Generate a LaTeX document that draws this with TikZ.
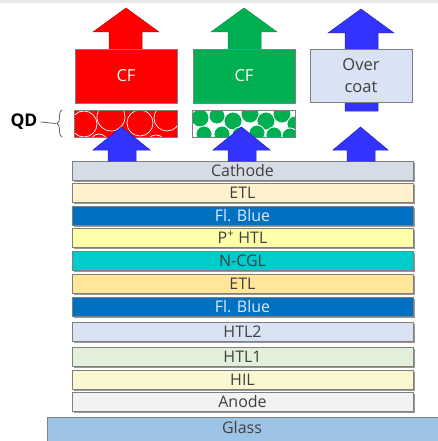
\documentclass[tikz,border=0pt]{standalone}
\usepackage{fontspec}
\setmainfont{Open Sans}
\usetikzlibrary{shadows,decorations.pathreplacing}
\definecolor{topgray}{HTML}{E8E8E8}
\definecolor{lborder}{HTML}{7F7F7F}
\definecolor{ltext}{HTML}{404040}
\definecolor{cathodec}{HTML}{D6DCE5}
\definecolor{etla}{HTML}{FFF2CC}
\definecolor{flblue}{HTML}{0070C0}
\definecolor{flbluetext}{HTML}{DDEBF7}
\definecolor{phtl}{HTML}{FFFFAA}
\definecolor{ncgl}{HTML}{00CCCC}
\definecolor{etlb}{HTML}{FFE699}
\definecolor{htltwo}{HTML}{DAE3F3}
\definecolor{htlone}{HTML}{E2F0D9}
\definecolor{hilc}{HTML}{FAF8D0}
\definecolor{anodec}{HTML}{F2F2F2}
\definecolor{glassc}{HTML}{9DC3E6}
\definecolor{cfred}{HTML}{FF0000}
\definecolor{cfgreen}{HTML}{00B050}
\definecolor{ocfill}{HTML}{DAE3F3}
\definecolor{arrblue}{HTML}{3333FF}
\begin{document}
\begin{tikzpicture}[x=1pt,y=-1pt,
  layer/.style={draw=lborder, line width=0.9pt, minimum width=341pt, minimum height=19pt,
    inner sep=0pt, outer sep=0pt, anchor=north west, text=ltext,
    font=\fontsize{16}{16}\selectfont,
    drop shadow={shadow xshift=1.5pt, shadow yshift=-1.5pt, opacity=0.4, fill=black}},
  cfbox/.style={draw=lborder, line width=0.8pt, minimum width=102pt, minimum height=54pt,
    inner sep=0pt, outer sep=0pt, anchor=north west, font=\fontsize{16.5}{16.5}\selectfont},
  qdbox/.style={draw=lborder, line width=0.8pt, minimum width=103pt, minimum height=27pt,
    inner sep=0pt, outer sep=0pt, anchor=north west},
  upar/.style={line width=0.5pt, line join=miter}
]
\useasboundingbox (0,0) rectangle (438,441);
\fill[topgray] (0,0) rectangle (438,3);

% ---- top arrows (behind boxes)
\filldraw[upar, fill=cfred, draw=cfred!80!black] (126,8) -- (159,32) -- (142,32) -- (142,52) -- (109,52) -- (109,32) -- (93,32) -- cycle;
\filldraw[upar, fill=cfgreen, draw=cfgreen!80!black] (244,8) -- (277,32) -- (261,32) -- (261,52) -- (228,52) -- (228,32) -- (211,32) -- cycle;
\filldraw[upar, fill=arrblue, draw=arrblue!70!black] (361,9) -- (394,33) -- (378,33) -- (378,111) -- (345,111) -- (345,33) -- (328,33) -- cycle;

% ---- colour filter boxes
\node[cfbox, fill=cfred, text=white] (cfr) at (75,49) {CF};
\node[cfbox, fill=cfgreen, text=white] (cfg) at (193,49) {CF};
\node[cfbox, fill=ocfill, text=ltext, align=center, minimum height=53pt] (oc) at (310,49) {Over\\[5pt]coat};

% ---- QD layers
\node[qdbox, fill=cfred] (qdr) at (74,110) {};
\begin{scope}
  \clip (74,110) rectangle (177,137);
  \foreach \cx/\cy/\r in {84/124/13, 111/117/14, 140/123/13, 167/118/13, 99/143/9, 126/144/9, 156/145/10, 80/102/9, 140/99/9}
    \draw[white, line width=0.7pt] (\cx,\cy) circle (\r);
\end{scope}
\draw[lborder, line width=0.8pt] (74,110) rectangle (177,137);

\node[qdbox, fill=white] (qdg) at (192,110) {};
\begin{scope}
  \clip (192,110) rectangle (295,137);
  \foreach \cx/\cy/\r in {200/118/9, 217/116/8, 233/121/9, 250/114/9, 266/121/9, 282/114/9, 295/124/8,
     204/134/8, 222/134/8, 240/135/8, 257/133/8, 274/135/8, 290/136/8}
    \filldraw[fill=cfgreen, draw=white, line width=0.8pt] (\cx,\cy) circle (\r);
\end{scope}
\draw[lborder, line width=0.8pt] (192,110) rectangle (295,137);

% ---- QD label and brace
\node[font=\bfseries\fontsize{17.5}{17.5}\selectfont, text=black, anchor=center, inner sep=0pt] (qd) at (24,122) {QD};
\coordinate (bracetip) at (56,123.5);
\draw[black!60, line width=0.8pt] (qd.east) ++(3pt,0) -- (bracetip);
\draw[black!60, line width=0.8pt, decorate, decoration={brace, amplitude=5pt}] (62,137) -- (62,110);

% ---- layer stack
\node[layer, fill=cathodec] (cathode) at (72,161) {Cathode};
\node[layer, fill=etla] (etl1) at (72,183) {ETL};
\node[layer, fill=flblue, text=flbluetext] (fl1) at (72,206) {Fl. Blue};
\node[layer, fill=phtl] (phtl) at (72,228) {P\textsuperscript{+} HTL};
\node[layer, fill=ncgl] (ncgl) at (72,251) {N-CGL};
\node[layer, fill=etlb] (etl2) at (72,274) {ETL};
\node[layer, fill=flblue, text=flbluetext] (fl2) at (72,297) {Fl. Blue};
\node[layer, fill=htltwo] (htl2) at (72,322) {HTL2};
\node[layer, fill=htlone] (htl1) at (72,347) {HTL1};
\node[layer, fill=hilc] (hil) at (72,370) {HIL};
\node[layer, fill=anodec] (anode) at (72,392) {Anode};
\node[draw=lborder, line width=0.9pt, fill=glassc, minimum width=400pt, minimum height=30pt,
  inner sep=0pt, anchor=north west] (glass) at (47,417) {};
\node[text=ltext, font=\fontsize{16}{16}\selectfont, inner sep=0pt] (glasslbl) at (242,427) {Glass};

% ---- lower blue arrows (over QD layers)
\filldraw[upar, fill=arrblue, draw=arrblue!70!black] (121.5,127) -- (150,150) -- (136,150) -- (136,161) -- (108,161) -- (108,150) -- (93,150) -- cycle;
\filldraw[upar, fill=arrblue, draw=arrblue!70!black] (241.5,127) -- (270,150) -- (256,150) -- (256,161) -- (228,161) -- (228,150) -- (213,150) -- cycle;
\filldraw[upar, fill=arrblue, draw=arrblue!70!black] (360.5,127) -- (388,150) -- (375,150) -- (375,161) -- (347,161) -- (347,150) -- (333,150) -- cycle;
\end{tikzpicture}
\end{document}
